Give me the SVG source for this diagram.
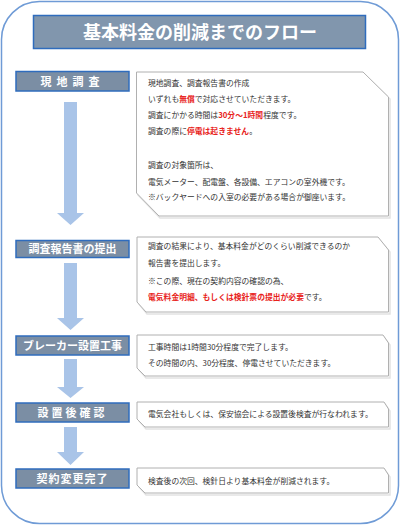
<svg xmlns="http://www.w3.org/2000/svg" width="400" height="526" viewBox="0 0 400 526">
<style>
.lbl rect{fill:#7b8ea4;stroke:#2f6cbd;stroke-width:1.5}
.lbl text{fill:#fff;font-family:"Noto Sans CJK JP","Noto Sans",sans-serif;font-weight:bold;font-size:11px;text-anchor:middle}
.desc path.b{fill:#fff;stroke:#b0b0b0;stroke-width:1}
.desc path.s{fill:none;stroke:#e2e2e2;stroke-width:1.5}
.desc text{fill:#333;font-family:"Noto Sans CJK JP","Noto Sans",sans-serif;font-size:7.8px}
.r{fill:#e8231b;font-weight:bold}
.arr{fill:#a9c4e8}
</style>
<rect x="1.5" y="1.5" width="397" height="522" rx="38" ry="38" fill="#fff" stroke="#6f9bd6" stroke-width="1.5"/>
<g id="title">
<rect x="33.5" y="15.5" width="332" height="33" fill="#8196ad" stroke="#2f6cbd" stroke-width="1.5"/>
<text x="200" y="39" fill="#fff" font-family="'Noto Sans CJK JP','Noto Sans',sans-serif" font-weight="bold" font-size="18" text-anchor="middle">基本料金の削減までのフロー</text>
</g>
<g id="connectors">
<polygon class="arr" points="64,102 77,102 77,213 84,213 70.5,225 57,213 64,213"/>
<polygon class="arr" points="64,263 77,263 77,318 84,318 70.5,330 57,318 64,318"/>
<polygon class="arr" points="64,359 77,359 77,387 84,387 70.5,398 57,387 64,387"/>
<polygon class="arr" points="64,427 77,427 77,452 84,452 70.5,465 57,452 64,452"/>
</g>
<g id="step1" class="lbl"><rect x="16" y="71.5" width="113" height="19.5"/><text x="72.5" y="85.5" letter-spacing="5">現地調査</text></g>
<g id="step2" class="lbl"><rect x="16" y="240.5" width="113" height="17"/><text x="72.5" y="253">調査報告書の提出</text></g>
<g id="step3" class="lbl"><rect x="16" y="336" width="113" height="19"/><text x="72.5" y="349.5">ブレーカー設置工事</text></g>
<g id="step4" class="lbl"><rect x="16" y="403" width="113" height="19"/><text x="72.5" y="416.5" letter-spacing="3">設置後確認</text></g>
<g id="step5" class="lbl"><rect x="16" y="469" width="113" height="19"/><text x="72.5" y="482.5" letter-spacing="1">契約変更完了</text></g>
<g id="desc1" class="desc">
<path class="s" d="M138,74 H364 L390,99 V218 H160 L138,195 Z"/>
<path class="b" d="M136.5,72 H363 L388.5,97 V216 H159 L136.5,193 Z"/>
<text x="148" y="86">現地調査、調査報告書の作成</text>
<text x="148" y="102">いずれも<tspan class="r">無償</tspan>で対応させていただきます。</text>
<text x="148" y="118">調査にかかる時間は<tspan class="r">30分～1時間</tspan>程度です。</text>
<text x="148" y="134">調査の際に<tspan class="r">停電は起きません</tspan>。</text>
<text x="148" y="168">調査の対象箇所は、</text>
<text x="148" y="185">電気メーター、配電盤、各設備、エアコンの室外機です。</text>
<text x="148" y="200">※バックヤードへの入室の必要がある場合が御座います。</text>
</g>
<g id="desc2" class="desc">
<path class="s" d="M139,239 H379 L390,252 V314 H147 L139,304 Z"/>
<path class="b" d="M137,237 H378 L388.5,250 V312 H146 L137,302 Z"/>
<text x="148" y="249">調査の結果により、基本料金がどのくらい削減できるのか</text>
<text x="148" y="266">報告書を提出します。</text>
<text x="148" y="284">※この際、現在の契約内容の確認の為、</text>
<text x="148" y="300"><tspan class="r">電気料金明細、もしくは検針票の提出が必要</tspan>です。</text>
</g>
<g id="desc3" class="desc">
<path class="s" d="M139,337 H384 L390,345 V378 H146 L139,370 Z"/>
<path class="b" d="M137,335 H383 L388.5,343 V376 H145 L137,368 Z"/>
<text x="148" y="350">工事時間は1時間30分程度で完了します。</text>
<text x="148" y="366">その時間の内、30分程度、停電させていただきます。</text>
</g>
<g id="desc4" class="desc">
<path class="s" d="M139,404 H385 L390,411 V429 H146 L139,421 Z"/>
<path class="b" d="M137,402 H384 L388.5,409 V427 H145 L137,419 Z"/>
<text x="148" y="417">電気会社もしくは、保安協会による設置後検査が行なわれます。</text>
</g>
<g id="desc5" class="desc">
<path class="s" d="M139,470 H385 L390,477 V495 H146 L139,487 Z"/>
<path class="b" d="M137,468 H384 L388.5,475 V493 H145 L137,485 Z"/>
<text x="148" y="483.5">検査後の次回、検針日より基本料金が削減されます。</text>
</g>
</svg>
